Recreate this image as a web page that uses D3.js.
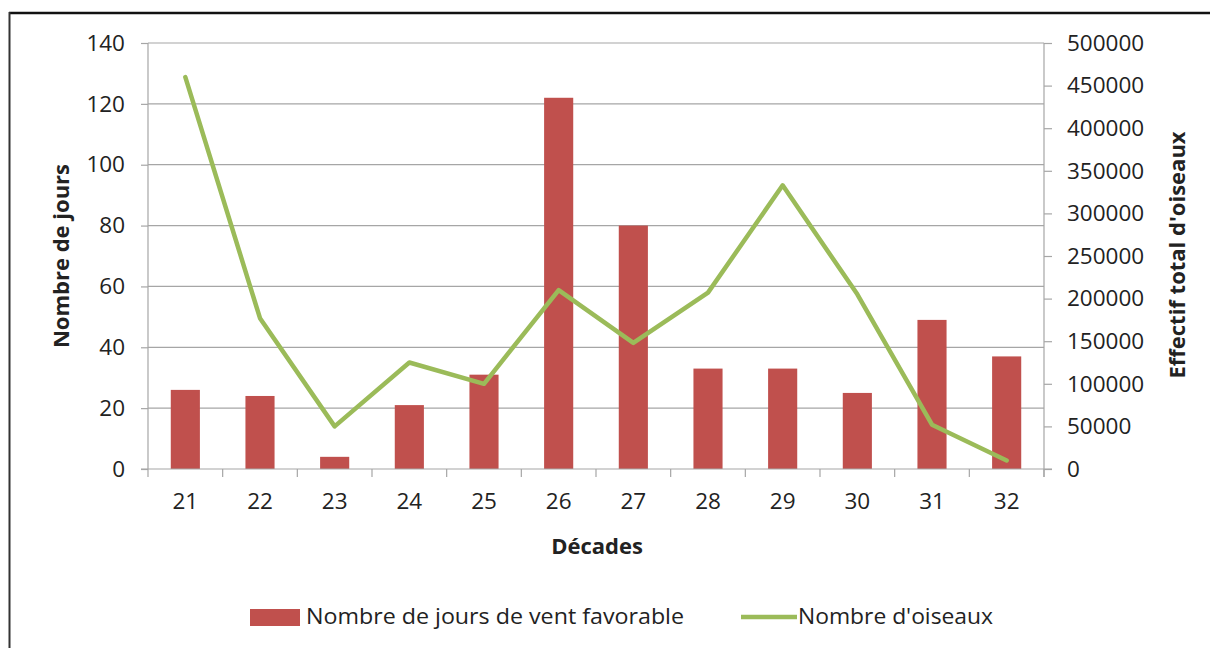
<!DOCTYPE html>
<html>
<head>
<meta charset="utf-8">
<script src="https://cdn.jsdelivr.net/npm/d3@7"></script>
<style>
  html, body { margin: 0; padding: 0; background: #fff; }
  svg { display: block; }
  text { font-family: "Open Sans", "Noto Sans", sans-serif; fill: #222; }
</style>
</head>
<body>
<svg id="chart" width="1210" height="648"></svg>
<script>
const categories = ["21","22","23","24","25","26","27","28","29","30","31","32"];
const windDays = [26, 24, 4, 21, 31, 122, 80, 33, 33, 25, 49, 37];
const birds = [460000, 177000, 50000, 125000, 100000, 210000, 148000, 207000, 333000, 205000, 52000, 10000];
const leftTicks = [0, 20, 40, 60, 80, 100, 120, 140];
const rightTicks = [0, 50000, 100000, 150000, 200000, 250000, 300000, 350000, 400000, 450000, 500000];
const seriesNames = ["Nombre de jours de vent favorable", "Nombre d'oiseaux"];

const svg = d3.select("#chart");
const L = 148, R = 1044, T = 43, B = 469;
const tickFont = 22.5;

svg.append("rect").attr("width", 1210).attr("height", 648).attr("fill", "#fff");
// outer frame
svg.append("line").attr("x1", 9).attr("x2", 1210).attr("y1", 13).attr("y2", 13).attr("stroke", "#111").attr("stroke-width", 2.5);
svg.append("line").attr("x1", 9.5).attr("x2", 9.5).attr("y1", 12).attr("y2", 648).attr("stroke", "#333").attr("stroke-width", 2);

const x = d3.scaleBand().domain(categories).range([L, R]).paddingInner(0.61).paddingOuter(0.305);
const xb = d3.scaleBand().domain(categories).range([L, R]);
const yL = d3.scaleLinear().domain([0, 140]).range([B, T]);
const yR = d3.scaleLinear().domain([0, 500000]).range([B, T]);

// gridlines
svg.append("g").selectAll("line").data(leftTicks.filter(d => d > 0)).join("line")
  .attr("x1", L).attr("x2", R).attr("y1", d => yL(d)).attr("y2", d => yL(d))
  .attr("stroke", "#a6a6a6").attr("stroke-width", 1.2);

// bars
svg.append("g").selectAll("rect").data(windDays).join("rect")
  .attr("x", (d, i) => x(categories[i]))
  .attr("width", x.bandwidth())
  .attr("y", d => yL(d))
  .attr("height", d => B - yL(d))
  .attr("fill", "#c0504d");

// left axis
const gL = svg.append("g").attr("transform", `translate(${L},0)`)
  .call(d3.axisLeft(yL).tickValues(leftTicks).tickSize(7).tickPadding(16));
gL.select(".domain").attr("stroke", "#a6a6a6").attr("stroke-width", 1.2).attr("d", `M0,${T}V${B}`);
gL.selectAll(".tick line").attr("stroke", "#a6a6a6").attr("stroke-width", 1.2);
gL.selectAll(".tick text").attr("font-size", tickFont).attr("fill", "#222").style("font-family", '"Open Sans", sans-serif');

// right axis
const gR = svg.append("g").attr("transform", `translate(${R},0)`)
  .call(d3.axisRight(yR).tickValues(rightTicks).tickSize(8).tickPadding(15).tickFormat(d3.format("d")));
gR.select(".domain").attr("stroke", "#a6a6a6").attr("stroke-width", 1.2).attr("d", `M0,${T}V${B + 8}`);
gR.selectAll(".tick line").attr("stroke", "#a6a6a6").attr("stroke-width", 1.2);
gR.selectAll(".tick text").attr("font-size", tickFont).attr("fill", "#222").style("font-family", '"Open Sans", sans-serif');

// bottom axis
const gB = svg.append("g").attr("transform", `translate(0,${B})`)
  .call(d3.axisBottom(xb).tickSize(0).tickPadding(24));
gB.select(".domain").attr("stroke", "#a6a6a6").attr("stroke-width", 1.2).attr("d", `M${L - 7},0H${R + 8}`);
gB.selectAll(".tick text").attr("font-size", tickFont).attr("fill", "#222").style("font-family", '"Open Sans", sans-serif');
// category boundary ticks
svg.append("g").selectAll("line").data(d3.range(categories.length + 1)).join("line")
  .attr("x1", i => L + i * xb.step()).attr("x2", i => L + i * xb.step())
  .attr("y1", B).attr("y2", B + 8)
  .attr("stroke", "#a6a6a6").attr("stroke-width", 1.2);

// line series
const line = d3.line().x((d, i) => xb(categories[i]) + xb.bandwidth() / 2).y(d => yR(d));
svg.append("path").datum(birds).attr("d", line)
  .attr("fill", "none").attr("stroke", "#9bbb59").attr("stroke-width", 4.5)
  .attr("stroke-linejoin", "round").attr("stroke-linecap", "round");

// axis titles
svg.append("text").attr("transform", `translate(69,256) rotate(-90)`)
  .attr("text-anchor", "middle").attr("font-size", 22).attr("font-weight", "bold")
  .text("Nombre de jours");
svg.append("text").attr("transform", `translate(1185,255) rotate(-90)`)
  .attr("text-anchor", "middle").attr("font-size", 22).attr("font-weight", "bold")
  .text("Effectif total d'oiseaux");
svg.append("text").attr("x", 597).attr("y", 554)
  .attr("text-anchor", "middle").attr("font-size", 22).attr("font-weight", "bold")
  .text("Décades");

// legend
const lg = svg.append("g");
lg.append("rect").attr("x", 250).attr("y", 609).attr("width", 50).attr("height", 17).attr("fill", "#c0504d");
lg.append("text").attr("x", 306).attr("y", 624).attr("font-size", 21)
  .style("font-family", '"Liberation Sans Narrow", "Open Sans", sans-serif')
  .attr("textLength", 378).attr("lengthAdjust", "spacingAndGlyphs")
  .text(seriesNames[0]);
lg.append("line").attr("x1", 741).attr("x2", 797).attr("y1", 617).attr("y2", 617)
  .attr("stroke", "#9bbb59").attr("stroke-width", 4.5);
lg.append("text").attr("x", 798).attr("y", 624).attr("font-size", 21)
  .style("font-family", '"Liberation Sans Narrow", "Open Sans", sans-serif')
  .attr("textLength", 195).attr("lengthAdjust", "spacingAndGlyphs")
  .text(seriesNames[1]);
</script>
</body>
</html>
